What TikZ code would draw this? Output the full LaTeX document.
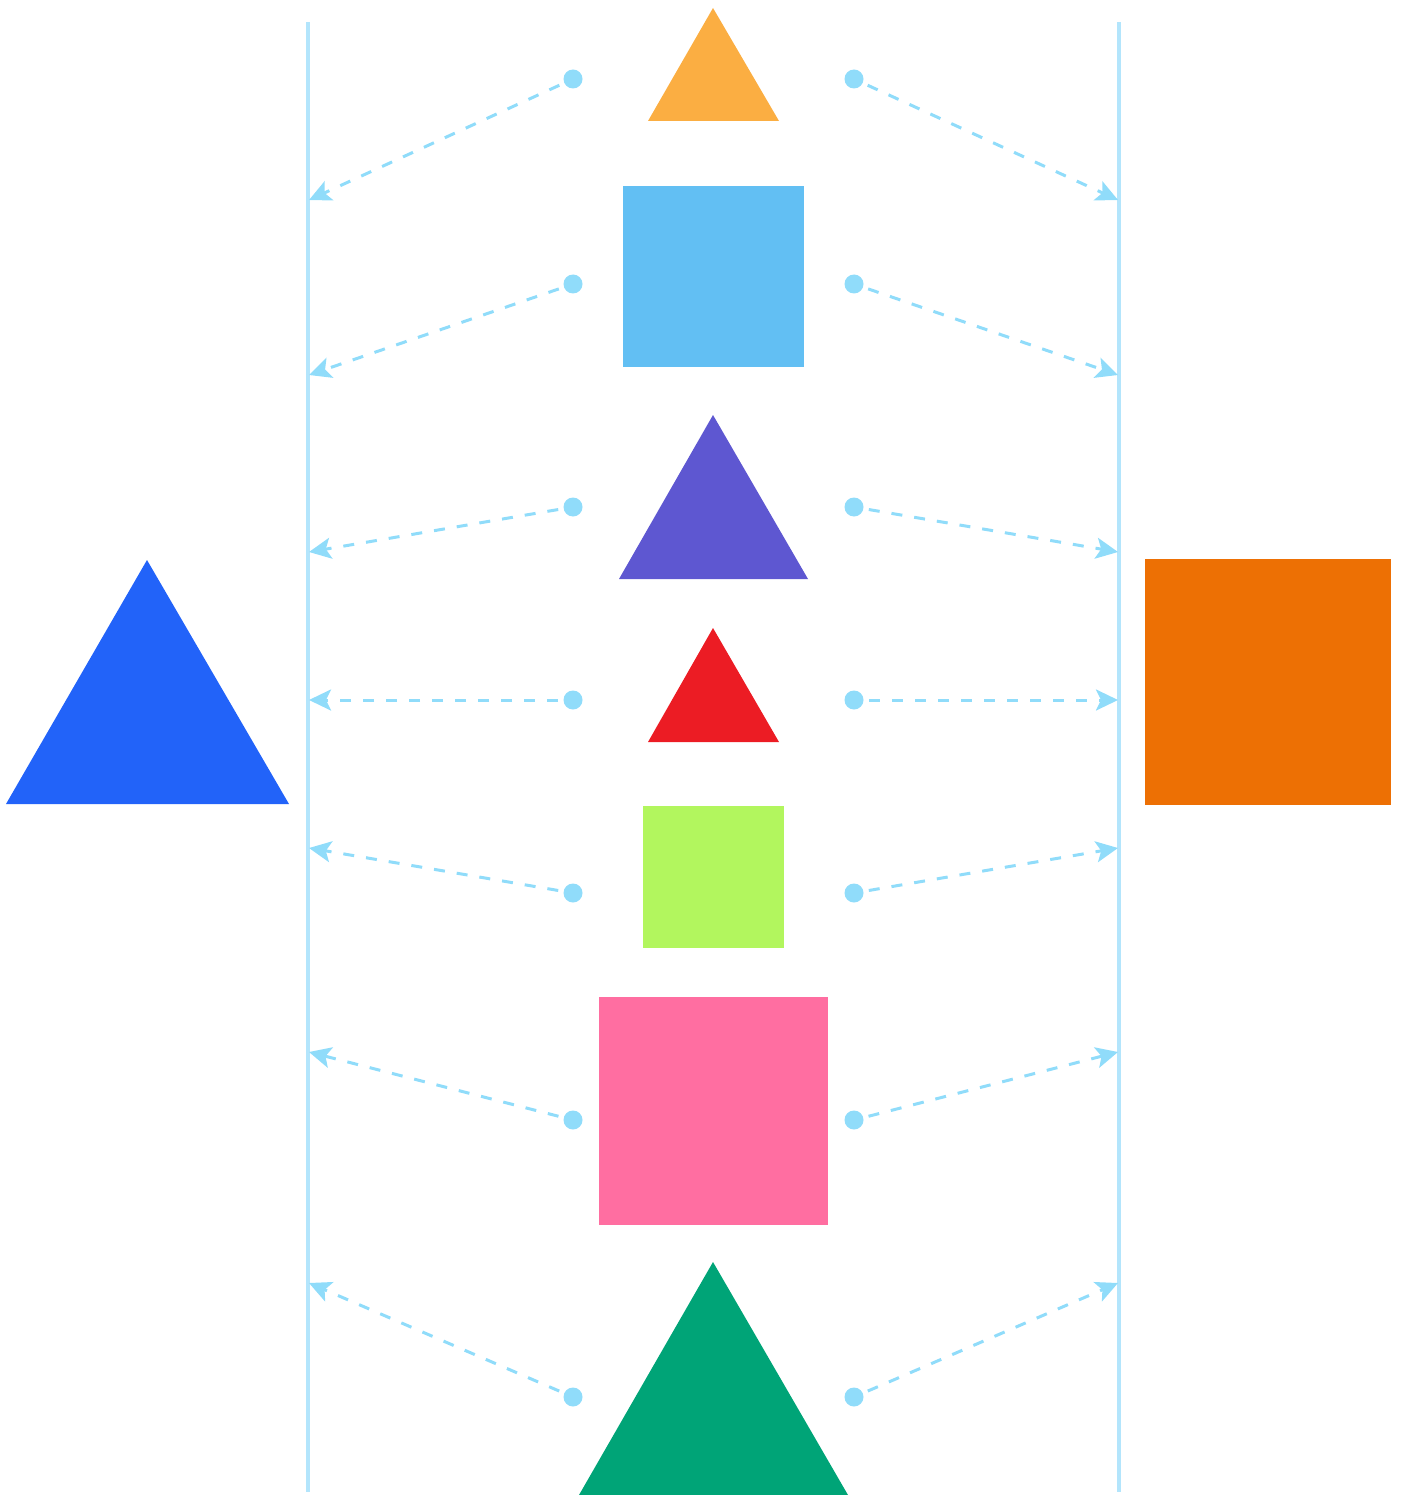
\documentclass[tikz,border=0pt]{standalone}
\usetikzlibrary{arrows.meta}
\definecolor{lineblue}{HTML}{B3E5FC}
\definecolor{arrblue}{HTML}{90DCFA}
\definecolor{corange}{HTML}{FBAE42}
\definecolor{cblue}{HTML}{62BFF3}
\definecolor{cpurple}{HTML}{5E57D1}
\definecolor{cred}{HTML}{EC1C24}
\definecolor{clime}{HTML}{B2F65E}
\definecolor{cpink}{HTML}{FF6EA1}
\definecolor{cgreen}{HTML}{00A477}
\definecolor{croyal}{HTML}{2263F9}
\definecolor{cdark}{HTML}{ED7004}
\begin{document}
\begin{tikzpicture}[x=1pt,y=-1pt,
  lifeline/.style={draw=lineblue,line width=3.5pt},
  conn/.style={draw=arrblue,line width=3pt,dash pattern=on 11pt off 12pt,shorten <=15pt,
    -{Stealth[length=22pt,width=21pt,inset=5pt]}},
  dotnode/.style={circle,fill=arrblue,inner sep=0pt,minimum size=19pt}]
\useasboundingbox (0,0) rectangle (1400,1495);
% lifelines
\coordinate (ltop) at (308,22); \coordinate (lbot) at (308,1492);
\coordinate (rtop) at (1119,22); \coordinate (rbot) at (1119,1492);
\draw[lifeline] (ltop) -- (lbot);
\draw[lifeline] (rtop) -- (rbot);
% shapes
\fill[corange] (713,8) -- (779,121) -- (648,121) -- cycle;
\fill[cblue] (623,186) rectangle (804,367);
\fill[cpurple] (713,415) -- (808,579) -- (619,579) -- cycle;
\fill[cred] (713,628) -- (779,742) -- (648,742) -- cycle;
\fill[clime] (643,806) rectangle (784,948);
\fill[cpink] (599,997) rectangle (828,1225);
\fill[cgreen] (713,1262) -- (848,1495) -- (579,1495) -- cycle;
\fill[croyal] (147,560) -- (289,804) -- (6,804) -- cycle;
\fill[cdark] (1145,559) rectangle (1391,805);
% dots and targets
\foreach \i/\dy/\ty in {1/79/200,2/284/375,3/507/552,4/700/700,5/893/848,6/1120/1052,7/1397/1283}{
  \node[dotnode] (dl\i) at (573,\dy) {};
  \node[dotnode] (dr\i) at (854,\dy) {};
  \coordinate (tl\i) at (309,\ty);
  \coordinate (tr\i) at (1118,\ty);
  \draw[conn] (dl\i.center) -- (tl\i);
  \draw[conn] (dr\i.center) -- (tr\i);
}
\end{tikzpicture}
\end{document}
